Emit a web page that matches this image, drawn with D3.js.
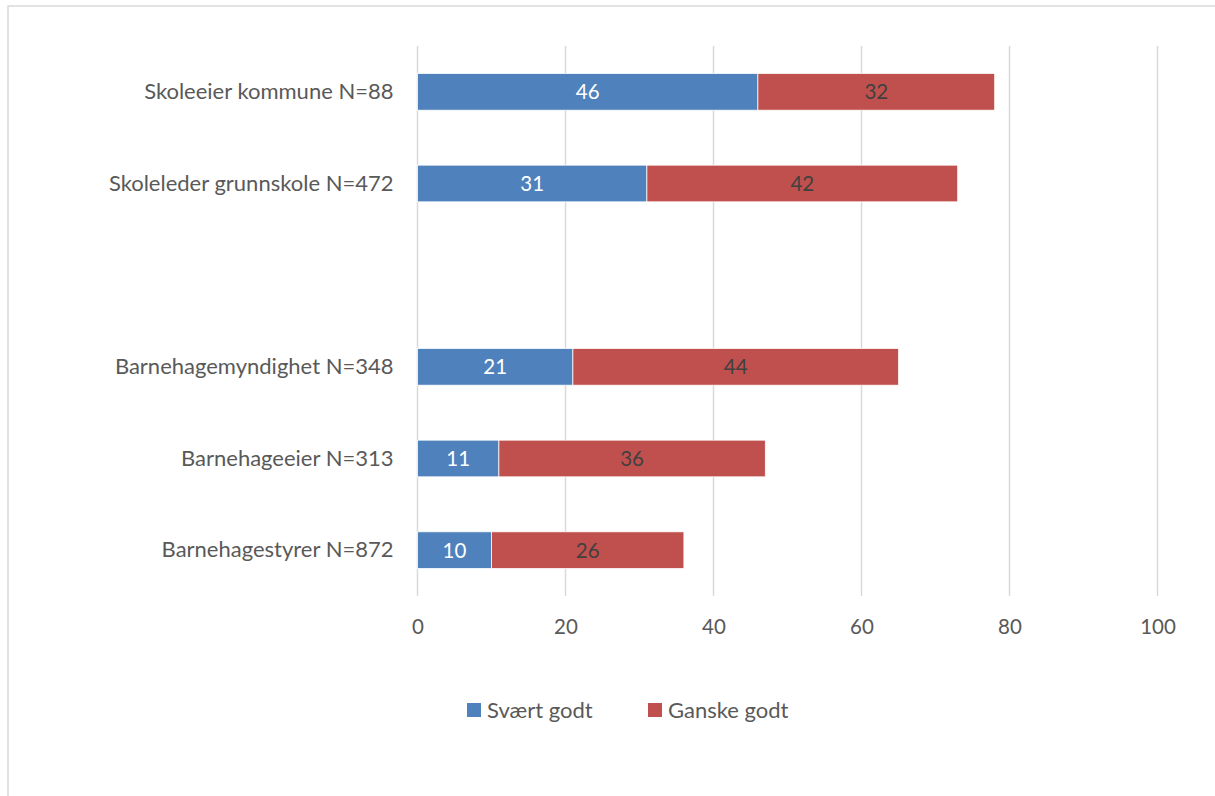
<!DOCTYPE html>
<html>
<head>
<meta charset="utf-8">
<script src="https://cdn.jsdelivr.net/npm/d3@7"></script>
<style>
  html, body { margin: 0; padding: 0; background: #fff; }
  svg { display: block; }
  text { font-family: Lato, "Open Sans", sans-serif; }
</style>
</head>
<body>
<svg id="chart" width="1215" height="796"></svg>
<script>
// Categories, top to bottom; the empty entry leaves a gap between the school and kindergarten groups
const categories = [
  "Skoleeier kommune N=88",
  "Skoleleder grunnskole N=472",
  "",
  "Barnehagemyndighet N=348",
  "Barnehageeier N=313",
  "Barnehagestyrer N=872"
];
const svaertGodt = [46, 31, null, 21, 11, 10];
const ganskeGodt = [32, 42, null, 44, 36, 26];
const seriesNames = ["Svært godt", "Ganske godt"];
const seriesColors = ["#4f81bd", "#c0504d"];
const labelColors = ["#ffffff", "#404040"];
const xTicks = [0, 20, 40, 60, 80, 100];

const svg = d3.select("#chart");

// Outer chart frame
svg.append("rect")
  .attr("x", 8).attr("y", 6)
  .attr("width", 1215).attr("height", 800)
  .attr("fill", "none").attr("stroke", "#d9d9d9").attr("stroke-width", 1.5);

const plot = { left: 417.5, right: 1157.5, top: 46, bottom: 596 };

const x = d3.scaleLinear().domain([0, 100]).range([plot.left, plot.right]);
const y = d3.scaleBand().domain(d3.range(categories.length))
  .range([plot.top, plot.bottom]).paddingInner(0.6).paddingOuter(0.3);

// Vertical gridlines
svg.append("g").selectAll("line").data(xTicks).join("line")
  .attr("x1", d => x(d)).attr("x2", d => x(d))
  .attr("y1", plot.top).attr("y2", plot.bottom)
  .attr("stroke", "#d9d9d9").attr("stroke-width", 1.5);

// X axis tick labels
const xAxis = d3.axisBottom(x).tickValues(xTicks).tickSize(0).tickPadding(0);
const gx = svg.append("g").attr("transform", `translate(0,${plot.bottom})`).call(xAxis);
gx.select(".domain").remove();
gx.selectAll("text")
  .attr("y", 31).attr("dy", "0.36em")
  .attr("font-family", "Lato, 'Open Sans', sans-serif")
  .attr("font-size", 20.5).attr("fill", "#595959");

// Category labels
const yAxis = d3.axisLeft(y).tickFormat(i => categories[i]).tickSize(0).tickPadding(0);
const gy = svg.append("g").attr("transform", `translate(${plot.left - 24},0)`).call(yAxis);
gy.select(".domain").remove();
gy.selectAll("text")
  .attr("font-family", "Lato, 'Open Sans', sans-serif")
  .attr("font-size", 22).attr("fill", "#595959");

// Stacked segments
const rows = categories.map((c, i) => ({ i, a: svaertGodt[i], b: ganskeGodt[i] }))
  .filter(r => r.a != null);
const segs = [];
rows.forEach(r => {
  segs.push({ i: r.i, s: 0, x0: 0, x1: r.a, v: r.a });
  segs.push({ i: r.i, s: 1, x0: r.a, x1: r.a + r.b, v: r.b });
});

const g = svg.append("g");
g.selectAll("rect").data(segs).join("rect")
  .attr("x", d => x(d.x0)).attr("width", d => x(d.x1) - x(d.x0))
  .attr("y", d => y(d.i)).attr("height", y.bandwidth())
  .attr("fill", d => seriesColors[d.s])
  .attr("stroke", "#ffffff").attr("stroke-width", 0.75);

g.selectAll("text").data(segs).join("text")
  .attr("x", d => (x(d.x0) + x(d.x1)) / 2)
  .attr("y", d => y(d.i) + y.bandwidth() / 2)
  .attr("dy", "0.36em").attr("text-anchor", "middle")
  .attr("font-size", 20.5).attr("fill", d => labelColors[d.s])
  .text(d => d.v);

// Legend
const legendItems = [
  { name: seriesNames[0], color: seriesColors[0], x: 467 },
  { name: seriesNames[1], color: seriesColors[1], x: 648 }
];
const lg = svg.append("g").selectAll("g").data(legendItems).join("g")
  .attr("transform", d => `translate(${d.x},703)`);
lg.append("rect").attr("width", 14).attr("height", 14).attr("fill", d => d.color);
lg.append("text").attr("x", 20).attr("y", 7.5).attr("dy", "0.36em")
  .attr("font-size", 22).attr("fill", "#595959").text(d => d.name);
</script>
</body>
</html>
